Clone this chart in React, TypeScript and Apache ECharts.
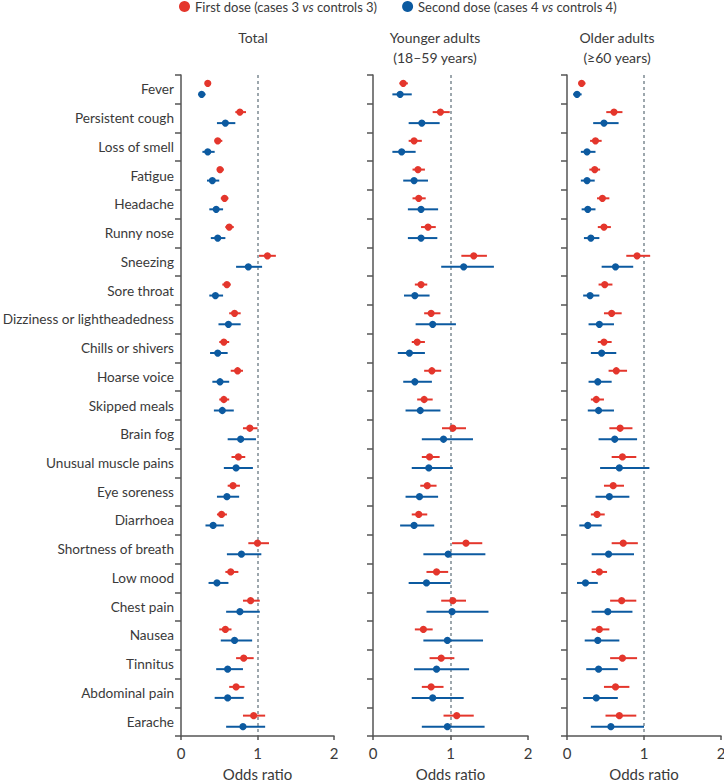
import React, { useEffect, useRef } from "react";
import * as echarts from "echarts";

const categories = [
  "Fever", "Persistent cough", "Loss of smell", "Fatigue", "Headache", "Runny nose",
  "Sneezing", "Sore throat", "Dizziness or lightheadedness", "Chills or shivers",
  "Hoarse voice", "Skipped meals", "Brain fog", "Unusual muscle pains", "Eye soreness",
  "Diarrhoea", "Shortness of breath", "Low mood", "Chest pain", "Nausea", "Tinnitus",
  "Abdominal pain", "Earache",
];

const legendFirst = "First dose (cases 3 vs controls 3)";
const legendSecond = "Second dose (cases 4 vs controls 4)";
const panelTitles = ["Total", "Younger adults\n(18–59 years)", "Older adults\n(≥60 years)"];
const xTickMin = 0;
const xTickMax = 2;
const xTickStep = 1;

// [estimate, lower, upper]
const totalFirst = [
  [0.35, 0.32, 0.38], [0.77, 0.71, 0.85], [0.48, 0.44, 0.54], [0.51, 0.47, 0.56],
  [0.57, 0.52, 0.62], [0.63, 0.58, 0.69], [1.13, 1.02, 1.24], [0.6, 0.54, 0.65],
  [0.7, 0.63, 0.78], [0.56, 0.5, 0.63], [0.74, 0.65, 0.81], [0.56, 0.5, 0.63],
  [0.9, 0.81, 1.0], [0.75, 0.66, 0.84], [0.68, 0.61, 0.77], [0.53, 0.47, 0.6],
  [1.0, 0.88, 1.15], [0.65, 0.58, 0.75], [0.91, 0.81, 1.03], [0.58, 0.5, 0.66],
  [0.82, 0.72, 0.95], [0.72, 0.63, 0.83], [0.95, 0.81, 1.1],
];
const totalSecond = [
  [0.27, 0.23, 0.32], [0.58, 0.47, 0.71], [0.35, 0.28, 0.44], [0.41, 0.34, 0.5],
  [0.46, 0.37, 0.55], [0.48, 0.39, 0.58], [0.88, 0.72, 1.06], [0.45, 0.37, 0.55],
  [0.62, 0.49, 0.78], [0.48, 0.38, 0.61], [0.51, 0.41, 0.63], [0.54, 0.43, 0.69],
  [0.78, 0.61, 0.98], [0.72, 0.56, 0.94], [0.6, 0.47, 0.76], [0.42, 0.32, 0.56],
  [0.79, 0.6, 1.05], [0.47, 0.36, 0.62], [0.77, 0.59, 1.03], [0.7, 0.52, 0.93],
  [0.61, 0.46, 0.81], [0.61, 0.44, 0.82], [0.81, 0.59, 1.1],
];
const youngerFirst = [
  [0.39, 0.34, 0.45], [0.87, 0.77, 0.99], [0.53, 0.46, 0.63], [0.58, 0.51, 0.67],
  [0.59, 0.51, 0.68], [0.71, 0.62, 0.81], [1.3, 1.14, 1.47], [0.62, 0.54, 0.7],
  [0.75, 0.66, 0.87], [0.57, 0.5, 0.67], [0.76, 0.66, 0.88], [0.66, 0.57, 0.77],
  [1.03, 0.89, 1.2], [0.73, 0.63, 0.86], [0.7, 0.61, 0.82], [0.59, 0.5, 0.7],
  [1.2, 1.02, 1.41], [0.82, 0.69, 0.97], [1.03, 0.88, 1.2], [0.65, 0.54, 0.77],
  [0.88, 0.73, 1.05], [0.75, 0.63, 0.91], [1.08, 0.91, 1.3],
];
const youngerSecond = [
  [0.35, 0.25, 0.5], [0.63, 0.46, 0.86], [0.37, 0.25, 0.55], [0.53, 0.39, 0.71],
  [0.62, 0.45, 0.84], [0.62, 0.45, 0.83], [1.17, 0.88, 1.56], [0.54, 0.4, 0.73],
  [0.77, 0.55, 1.07], [0.47, 0.32, 0.67], [0.54, 0.39, 0.76], [0.61, 0.42, 0.87],
  [0.91, 0.63, 1.29], [0.72, 0.5, 1.03], [0.6, 0.42, 0.84], [0.53, 0.35, 0.79],
  [0.97, 0.65, 1.45], [0.69, 0.46, 1.0], [1.02, 0.69, 1.49], [0.96, 0.65, 1.42],
  [0.82, 0.53, 1.24], [0.77, 0.5, 1.17], [0.96, 0.63, 1.44],
];
const olderFirst = [
  [0.19, 0.15, 0.24], [0.61, 0.51, 0.72], [0.37, 0.3, 0.45], [0.36, 0.29, 0.43],
  [0.46, 0.39, 0.55], [0.48, 0.4, 0.57], [0.91, 0.77, 1.08], [0.49, 0.41, 0.59],
  [0.58, 0.48, 0.71], [0.48, 0.4, 0.58], [0.64, 0.54, 0.78], [0.38, 0.31, 0.48],
  [0.69, 0.55, 0.85], [0.72, 0.58, 0.9], [0.6, 0.48, 0.74], [0.39, 0.31, 0.49],
  [0.73, 0.58, 0.92], [0.42, 0.32, 0.52], [0.71, 0.56, 0.9], [0.42, 0.32, 0.55],
  [0.72, 0.56, 0.91], [0.63, 0.48, 0.81], [0.68, 0.5, 0.9],
];
const olderSecond = [
  [0.13, 0.08, 0.19], [0.48, 0.34, 0.67], [0.26, 0.18, 0.37], [0.26, 0.18, 0.36],
  [0.27, 0.19, 0.37], [0.31, 0.22, 0.42], [0.63, 0.45, 0.86], [0.3, 0.21, 0.42],
  [0.42, 0.28, 0.61], [0.45, 0.31, 0.64], [0.4, 0.28, 0.58], [0.41, 0.27, 0.61],
  [0.62, 0.41, 0.91], [0.68, 0.43, 1.07], [0.55, 0.37, 0.81], [0.27, 0.16, 0.45],
  [0.54, 0.32, 0.87], [0.24, 0.13, 0.4], [0.53, 0.32, 0.85], [0.4, 0.23, 0.68],
  [0.41, 0.25, 0.66], [0.38, 0.21, 0.66], [0.57, 0.31, 1.0],
];

const RED = "#e4362c";
const BLUE = "#0c5aa0";
const TEXT = "#3a3a3a";
const AXIS = "#555555";
const FONT = "Lato";

function makeSeries(name: string, color: string, data: number[][], idx: number, offset: number) {
  return {
    type: "custom",
    name,
    xAxisIndex: idx,
    yAxisIndex: idx,
    itemStyle: { color },
    encode: { x: [0, 2, 3], y: 1 },
    data: data.map((d, i) => [d[0], i, d[1], d[2]]),
    renderItem: (_params: any, api: any) => {
      const c = api.coord([api.value(0), api.value(1)]);
      const l = api.coord([api.value(2), api.value(1)]);
      const h = api.coord([api.value(3), api.value(1)]);
      const y = c[1] + offset;
      return {
        type: "group",
        children: [
          { type: "line", shape: { x1: l[0], y1: y, x2: h[0], y2: y }, style: { stroke: color, lineWidth: 2 } },
          { type: "circle", shape: { cx: c[0], cy: y, r: 3.6 }, style: { fill: color } },
        ],
      };
    },
  };
}

export default function App() {
  const ref = useRef<HTMLDivElement>(null);
  useEffect(() => {
    if (!ref.current) return;
    const chart = echarts.init(ref.current, null, { renderer: "svg" });
    const grids = [
      { left: 181, top: 75, width: 153, height: 661, containLabel: false, outerBoundsMode: "none" },
      { left: 373, top: 75, width: 155, height: 661, containLabel: false, outerBoundsMode: "none" },
      { left: 567, top: 75, width: 154, height: 661, containLabel: false, outerBoundsMode: "none" },
    ];
    const xAxes = grids.map((_, i) => ({
      type: "value",
      gridIndex: i,
      min: xTickMin,
      max: xTickMax,
      interval: xTickStep,
      name: "Odds ratio",
      nameLocation: "middle",
      nameGap: 30,
      nameTextStyle: { fontSize: 15, color: TEXT, fontFamily: FONT },
      axisLine: { show: true, lineStyle: { color: AXIS, width: 1.5 } },
      axisTick: { show: true, length: 4, lineStyle: { color: AXIS, width: 1.5 } },
      axisLabel: { fontSize: 15, color: TEXT, fontFamily: FONT, margin: 9 },
      splitLine: {
        show: true,
        lineStyle: { color: ["rgba(0,0,0,0)", "#7d8b92", "rgba(0,0,0,0)"], type: [3, 3], width: 1.5 },
      },
    }));
    const yAxes = grids.map((_, i) => ({
      type: "category",
      gridIndex: i,
      data: categories,
      inverse: true,
      axisLine: { show: true, lineStyle: { color: AXIS, width: 1.5 } },
      axisTick: { show: true, length: 6, interval: 0, lineStyle: { color: AXIS, width: 1.5 } },
      axisLabel: { show: i === 0, interval: 0, fontSize: 13.6, color: TEXT, fontFamily: FONT, margin: 7 },
      splitLine: { show: false },
    }));
    const series = [
      makeSeries(legendFirst, RED, totalFirst, 0, -6),
      makeSeries(legendSecond, BLUE, totalSecond, 0, 5),
      makeSeries(legendFirst, RED, youngerFirst, 1, -6),
      makeSeries(legendSecond, BLUE, youngerSecond, 1, 5),
      makeSeries(legendFirst, RED, olderFirst, 2, -6),
      makeSeries(legendSecond, BLUE, olderSecond, 2, 5),
    ];
    const titleX = [253, 435, 617];
    chart.setOption({
      animation: false,
      backgroundColor: "#ffffff",
      legend: {
        data: [legendFirst, legendSecond],
        left: 179,
        top: 0,
        padding: 0,
        icon: "circle",
        itemWidth: 11,
        itemHeight: 11,
        itemGap: 25,
        formatter: (name: string) => name.replace(" vs ", " {i|vs} "),
        textStyle: {
          fontSize: 13,
          color: TEXT,
          fontFamily: FONT,
          rich: { i: { fontStyle: "italic", fontSize: 13, color: TEXT, fontFamily: FONT } },
        },
      },
      grid: grids,
      xAxis: xAxes,
      yAxis: yAxes,
      series,
      graphic: panelTitles.map((t, i) => ({
        type: "text",
        x: titleX[i],
        y: 27,
        style: {
          text: t,
          fill: TEXT,
          fontSize: 14,
          fontFamily: FONT,
          lineHeight: 20,
          align: "center",
          verticalAlign: "top",
        },
      })),
    });
    return () => chart.dispose();
  }, []);
  return (
    <div
      ref={ref}
      style={{ position: "fixed", left: 0, top: 0, width: 724, height: 783, background: "#fff" }}
    />
  );
}
